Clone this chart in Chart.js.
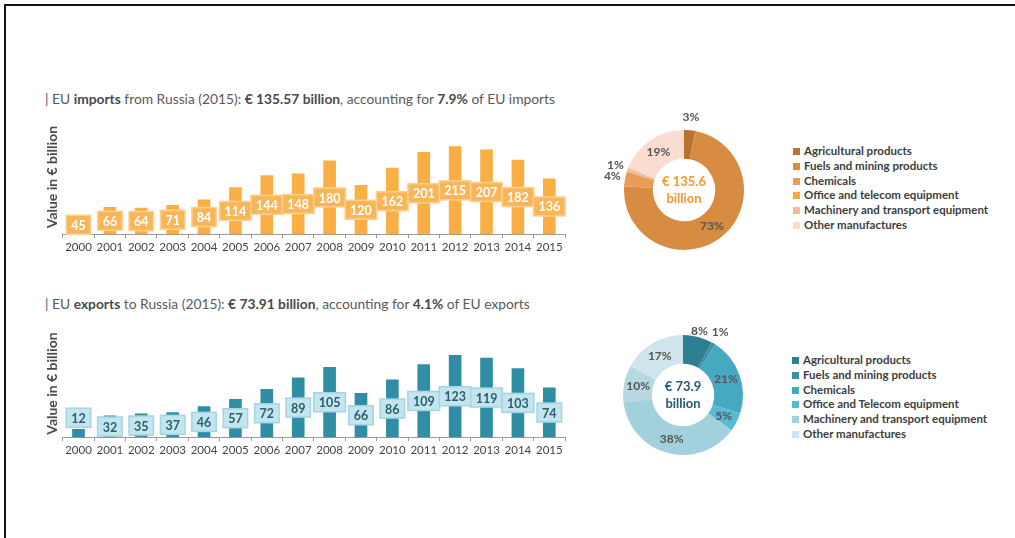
<!DOCTYPE html>
<html>
<head>
<meta charset="utf-8">
<script src="https://cdn.jsdelivr.net/npm/chart.js@4/dist/chart.umd.min.js"></script>
<style>
  body { margin: 0; background: #fff; font-family: Lato, "Open Sans", sans-serif; }
  #page { position: relative; width: 1015px; height: 538px; overflow: hidden; }
  .frame { position: absolute; left: 4px; top: 4px; width: 1100px; height: 600px;
           border-top: 2px solid #111; border-left: 2px solid #111; }
  .title { position: absolute; left: 45px; font-size: 13.8px; color: #5a5a5a; white-space: nowrap; }
  .title b { color: #4a4a4a; }
  canvas { position: absolute; }
  .legend { position: absolute; font-size: 11.5px; font-weight: 700; color: #3d3d3d; }
  .legend div { height: 14.8px; line-height: 14.8px; white-space: nowrap; }
  .legend span { display: inline-block; width: 7px; height: 7px; margin-right: 4px; vertical-align: 0px; }
</style>
</head>
<body>
<div id="page">
  <div class="frame"></div>
  <div class="title" style="top:90px">| EU <b>imports</b> from Russia (2015): <b>€ 135.57 billion</b>, accounting for <b>7.9%</b> of EU imports</div>
  <div class="title" style="top:295px">| EU <b>exports</b> to Russia (2015): <b>€ 73.91 billion</b>, accounting for <b>4.1%</b> of EU exports</div>

  <canvas id="barImports" style="left:38px;top:112px;width:542px;height:150px"></canvas>
  <canvas id="pieImports" style="left:604px;top:110px;width:160px;height:160px"></canvas>
  <div class="legend" id="legImports" style="left:793px;top:144px"></div>

  <canvas id="barExports" style="left:38px;top:322px;width:542px;height:143px"></canvas>
  <canvas id="pieExports" style="left:603px;top:315px;width:160px;height:160px"></canvas>
  <div class="legend" id="legExports" style="left:792px;top:353px"></div>
</div>
<script>
// data
const years = ['2000','2001','2002','2003','2004','2005','2006','2007','2008','2009','2010','2011','2012','2013','2014','2015'];
const importValues = [45, 66, 64, 71, 84, 114, 144, 148, 180, 120, 162, 201, 215, 207, 182, 136];
const exportValues = [12, 32, 35, 37, 46, 57, 72, 89, 105, 66, 86, 109, 123, 119, 103, 74];

const importSectors = ['Agricultural products', 'Fuels and mining products', 'Chemicals',
  'Office and telecom equipment', 'Machinery and transport equipment', 'Other manufactures'];
const importShares = [3, 73, 4, 0, 1, 19];
const importColors = ['#b8742f', '#d88c42', '#e99c55', '#f5a646', '#f4bb98', '#fbdcd0'];

const exportSectors = ['Agricultural products', 'Fuels and mining products', 'Chemicals',
  'Office and Telecom equipment', 'Machinery and transport equipment', '', 'Other manufactures'];
const exportShares = [8, 1, 21, 5, 38, 10, 17];
const exportColors = ['#2d7f92', '#3a91a6', '#46a9c1', '#56bcd6', '#a2d0dd', '#b7d8e1', '#cfe5eb'];

Chart.defaults.font.family = 'Lato, "Open Sans", sans-serif';
Chart.defaults.animation = false;

// boxed value labels sitting on the middle of each bar
const barLabels = {
  id: 'barLabels',
  afterDatasetsDraw(chart, args, opts) {
    const ctx = chart.ctx;
    const vals = chart.data.datasets[0].data;
    ctx.save();
    ctx.font = 'bold 12.5px Lato, "Open Sans", sans-serif';
    ctx.textAlign = 'center';
    ctx.textBaseline = 'middle';
    chart.getDatasetMeta(0).data.forEach((bar, i) => {
      const txt = String(vals[i]);
      const h = 19;
      const w = ctx.measureText(txt).width + 10;
      const barH = bar.base - bar.y;
      let cy = (bar.y + bar.base) / 2;
      if (barH < 12) cy = bar.y - 2 - h / 2;
      else if (cy + h / 2 > bar.base) cy = bar.base - h / 2;
      ctx.fillStyle = opts.fill;
      ctx.strokeStyle = opts.stroke;
      ctx.lineWidth = 1.5;
      ctx.fillRect(bar.x - w / 2, cy - h / 2, w, h);
      ctx.strokeRect(bar.x - w / 2, cy - h / 2, w, h);
      ctx.fillStyle = opts.color;
      ctx.fillText(txt, bar.x, cy + 1);
    });
    ctx.restore();
  }
};

function barChart(id, values, color, yMax, labelOpts) {
  new Chart(document.getElementById(id), {
    type: 'bar',
    data: {
      labels: years,
      datasets: [{ data: values, backgroundColor: color, barThickness: 12 }]
    },
    options: {
      responsive: false,
      layout: { padding: { top: 8, right: 15, bottom: 6, left: 1 } },
      plugins: { legend: { display: false }, tooltip: { enabled: false }, barLabels: labelOpts },
      scales: {
        x: {
          grid: { display: true, drawOnChartArea: false, tickLength: 4, color: '#9a9a9a' },
          border: { color: '#9a9a9a' },
          ticks: { color: '#444', font: { size: 11.5 }, padding: 2, maxRotation: 0, autoSkip: false }
        },
        y: {
          min: 0, max: yMax,
          grid: { display: false },
          border: { display: false },
          ticks: { display: false },
          title: { display: true, text: 'Value in € billion', color: '#4a4a4a',
                   font: { size: 14, weight: 'bold' }, padding: { top: 5, bottom: -6 } }
        }
      }
    },
    plugins: [barLabels]
  });
}

barChart('barImports', importValues, '#f9af43', 280,
  { fill: '#f8b658', stroke: '#fdd195', color: '#ffffff' });
barChart('barExports', exportValues, '#2f8ea3', 161,
  { fill: '#c4e5ee', stroke: '#a4d5e2', color: '#2a5f6e' });

// percentage labels around the ring, and the total in the hole
const donutText = {
  id: 'donutText',
  afterDatasetsDraw(chart, args, opts) {
    const ctx = chart.ctx;
    const vals = chart.data.datasets[0].data;
    ctx.save();
    ctx.textAlign = 'center';
    ctx.textBaseline = 'middle';
    ctx.font = 'bold 12px Lato, "Open Sans", sans-serif';
    ctx.fillStyle = '#555';
    chart.getDatasetMeta(0).data.forEach((arc, i) => {
      if (!vals[i]) return;
      const a = (arc.startAngle + arc.endAngle) / 2;
      let r = (arc.innerRadius + arc.outerRadius) / 2;
      const nearTop = Math.abs(a + Math.PI / 2) < Math.PI / 6;
      if (vals[i] < 5) r = arc.outerRadius + 13;
      else if (nearTop && vals[i] < 10) r = arc.outerRadius + 6;
      ctx.fillText(vals[i] + '%', arc.x + Math.cos(a) * r, arc.y + Math.sin(a) * r);
    });
    const c = chart.getDatasetMeta(0).data[0];
    ctx.font = 'bold 13px Lato, "Open Sans", sans-serif';
    ctx.fillStyle = opts.color;
    ctx.fillText(opts.lines[0], c.x, c.y - 8);
    ctx.fillText(opts.lines[1], c.x, c.y + 9);
    ctx.restore();
  }
};

function donut(id, labels, values, colors, center) {
  new Chart(document.getElementById(id), {
    type: 'doughnut',
    data: { labels: labels, datasets: [{ data: values, backgroundColor: colors, borderWidth: 0 }] },
    options: {
      responsive: false,
      cutout: '52%',
      layout: { padding: 20 },
      plugins: { legend: { display: false }, tooltip: { enabled: false }, donutText: center }
    },
    plugins: [donutText]
  });
}

donut('pieImports', importSectors, importShares, importColors, { color: '#f39a2c', lines: ['€ 135.6', 'billion'] });
donut('pieExports', exportSectors, exportShares, exportColors, { color: '#1f5f70', lines: ['€ 73.9', 'billion'] });

function legend(id, labels, colors) {
  const el = document.getElementById(id);
  labels.forEach((l, i) => {
    if (!l) return;
    const row = document.createElement('div');
    const sw = document.createElement('span');
    sw.style.background = colors[i];
    row.appendChild(sw);
    row.appendChild(document.createTextNode(l));
    el.appendChild(row);
  });
}
legend('legImports', importSectors, importColors);
legend('legExports', exportSectors, exportColors);
</script>
</body>
</html>
